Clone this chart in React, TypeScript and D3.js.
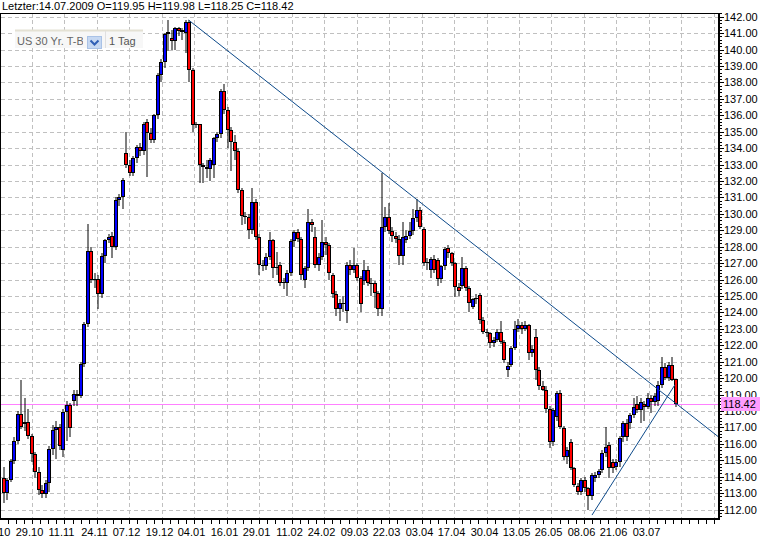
import React from "react";
import * as d3 from "d3";

// [open, high, low, close] per daily bar, 17.10.2008 .. 14.07.2009
const ohlc: [number, number, number, number][] = [
  [113.9,114.6,112.4,113.0],[113.0,113.9,112.6,113.8],[113.8,115.1,113.7,114.95],[114.95,116.4,114.8,116.15],
  [116.15,118.0,116.0,117.85],[117.85,119.9,116.9,117.0],[117.2,118.8,116.8,117.35],[117.35,118.1,116.3,116.5],
  [116.5,116.6,114.9,115.4],[115.4,115.5,113.9,114.3],[114.3,114.6,112.9,113.2],[113.2,113.5,112.7,112.95],
  [112.95,113.8,112.7,113.6],[113.6,115.9,113.1,115.7],[115.7,117.15,115.3,116.85],[116.85,117.4,115.1,117.05],
  [117.05,117.2,115.6,115.9],[115.6,118.1,115.2,117.95],[117.95,118.6,116.2,118.35],[118.35,118.5,116.4,116.95],
  [118.6,119.3,118.3,119.05],[119.05,119.3,118.3,118.9],[118.9,121.0,118.8,120.86],[120.86,123.4,120.7,123.27],
  [123.27,129.4,123.1,127.74],[127.74,128.0,125.8,125.97],[125.97,126.4,125.5,126.05],[126.05,126.3,124.24,125.1],
  [125.1,127.6,124.9,127.45],[127.45,128.5,127.0,128.4],[128.4,128.8,128.2,128.6],[128.67,128.9,127.3,128.0],
  [128.0,131.0,127.8,130.84],[130.84,131.2,130.5,131.05],[131.05,132.2,130.3,132.06],[133.72,135.0,132.8,132.97],
  [132.97,133.3,132.3,132.5],[132.5,133.5,132.3,133.38],[133.38,134.2,133.1,134.09],[134.09,134.3,133.5,133.8],
  [133.8,135.6,133.6,135.5],[135.57,135.8,132.26,134.9],[134.9,135.2,134.3,134.5],[134.5,136.1,134.3,136.02],
  [136.02,138.6,135.8,138.45],[138.45,139.4,138.0,139.26],[139.26,141.0,138.9,140.95],[140.95,141.8,139.9,141.05],
  [140.7,141.2,140.0,140.5],[140.5,141.4,139.97,141.3],[141.3,141.4,140.8,141.15],[141.2,141.3,140.6,141.05],
  [141.0,141.8,139.8,141.7],[141.65,141.8,138.0,138.75],[138.75,138.9,135.0,135.4],[135.4,135.6,135.2,135.45],
  [135.45,135.5,131.9,133.0],[133.0,133.1,131.9,132.85],[132.85,133.3,132.2,132.75],[132.75,133.4,132.0,133.25],
  [133.0,134.7,132.2,134.6],[134.6,135.0,134.4,134.84],[134.84,137.6,134.6,137.48],[137.48,137.9,136.1,136.32],
  [136.32,136.5,134.0,135.1],[135.1,135.3,132.6,134.4],[134.4,134.8,133.3,133.8],[133.8,134.0,131.3,131.45],
  [131.45,131.6,129.3,129.9],[129.9,130.1,129.4,129.8],[129.8,130.0,128.5,129.0],[129.0,131.55,128.8,130.7],
  [130.7,130.9,128.4,128.6],[128.6,128.8,126.3,126.9],[126.9,127.2,126.5,126.85],[126.85,127.6,126.6,127.4],
  [127.4,128.9,127.2,128.4],[128.4,128.5,126.1,126.7],[126.7,127.7,126.3,126.75],[126.9,127.1,125.6,125.8],
  [125.8,126.1,125.4,125.85],[125.8,126.6,125.0,126.4],[126.4,128.5,126.2,128.35],[128.35,129.0,128.0,128.9],
  [128.9,129.1,128.3,128.45],[128.45,128.6,126.0,126.3],[126.0,126.8,125.5,126.7],[126.7,130.3,126.5,129.5],
  [129.5,129.7,128.9,129.3],[128.6,129.2,126.7,126.9],[126.9,127.6,126.5,127.4],[127.4,129.6,127.2,128.3],
  [128.3,128.6,127.5,128.1],[128.1,128.2,126.0,126.4],[126.3,126.4,124.9,125.1],[125.1,125.3,123.8,124.2],
  [124.2,124.8,123.5,124.6],[124.5,125.0,124.0,124.6],[124.06,127.1,123.34,126.89],[126.89,127.2,126.3,126.6],
  [126.6,127.9,126.4,126.89],[126.89,127.0,125.9,126.08],[126.08,126.2,124.0,124.52],[125.9,127.2,125.7,126.6],
  [126.6,126.8,125.6,125.8],[125.8,126.1,125.0,125.78],[125.78,125.9,124.3,125.17],[125.17,125.3,123.8,124.2],
  [124.2,132.46,123.8,129.22],[129.22,130.4,128.9,129.79],[129.79,130.64,128.8,128.98],[128.98,129.2,128.3,128.66],
  [128.66,128.9,128.2,128.5],[128.5,128.7,126.9,127.44],[127.44,129.5,126.9,128.6],[128.4,129.0,128.2,128.66],
  [128.66,129.5,128.5,128.98],[128.98,130.3,128.7,129.73],[129.73,130.9,129.5,130.24],[130.24,130.4,129.1,129.22],
  [129.1,129.2,126.8,126.99],[126.99,127.3,126.6,127.05],[126.6,127.4,126.1,127.24],[127.24,127.5,126.4,126.6],
  [127.2,127.3,125.6,126.02],[126.02,126.9,125.8,126.83],[126.83,128.0,126.6,127.84],[127.9,128.1,127.3,127.64],
  [127.64,127.7,126.8,127.0],[127.0,127.1,124.95,125.57],[125.57,125.8,125.0,125.3],[125.6,127.4,125.4,126.69],
  [126.69,126.8,125.3,125.47],[125.47,125.6,124.0,124.56],[124.36,124.9,124.2,124.8],[124.9,125.1,124.5,124.8],
  [125.07,125.2,123.3,123.55],[123.55,123.7,122.7,122.84],[122.84,123.0,122.5,122.74],[122.74,122.8,121.82,122.13],
  [122.13,122.5,121.9,122.33],[122.33,123.0,122.2,122.84],[122.84,123.5,122.1,122.23],[122.23,122.3,120.9,121.11],
  [120.5,121.0,120.1,120.75],[120.8,121.95,120.7,121.82],[121.82,123.5,121.7,122.97],[122.97,123.6,122.8,123.23],
  [123.23,123.4,122.7,122.97],[122.97,123.5,122.9,123.23],[123.23,123.3,121.1,121.51],[121.51,122.0,121.3,121.75],
  [122.48,123.0,119.9,120.5],[120.5,120.7,119.3,119.52],[119.52,119.8,119.2,119.28],[119.28,119.5,117.9,118.1],
  [118.1,118.3,115.73,116.14],[116.14,118.2,115.9,118.06],[117.62,119.2,117.4,119.07],[119.07,119.3,116.9,117.05],
  [116.95,117.1,115.0,115.22],[115.22,115.8,114.8,115.63],[116.14,116.3,114.41,114.51],[114.51,114.6,113.4,113.5],
  [113.44,113.6,112.9,113.09],[113.09,113.9,112.9,113.8],[113.8,114.0,113.1,113.29],[113.29,113.4,111.98,112.83],
  [112.83,114.2,112.6,114.11],[113.91,114.3,113.7,114.11],[114.11,114.5,113.9,114.37],[114.41,115.6,114.2,115.43],
  [115.43,117.0,115.2,115.83],[115.93,116.1,113.9,114.51],[114.88,115.1,114.2,114.51],[114.6,115.1,114.4,114.88],
  [114.92,116.5,114.6,116.34],[116.4,117.4,116.1,117.25],[117.25,117.5,116.2,116.4],[117.25,117.9,116.9,117.76],
  [117.76,118.8,117.6,118.26],[118.43,118.9,117.9,118.06],[118.06,118.8,117.3,118.57],[118.4,118.6,117.4,118.26],
  [118.26,119.1,118.1,118.82],[118.82,119.0,117.9,118.57],[118.57,119.1,118.3,118.9],[118.6,119.8,118.3,119.6],
  [119.6,121.3,119.4,120.7],[120.7,120.9,119.9,120.0],[120.0,121.0,119.8,120.8],[120.8,121.3,119.8,119.9],
  [119.95,119.98,118.25,118.42],
];

const dateLabels = ["16.10","29.10","11.11","24.11","07.12","19.12","04.01","16.01","29.01","11.02","24.02",
  "09.03","22.03","03.04","17.04","30.04","13.05","26.05","08.06","21.06","03.07"];
const priceTicks = d3.range(112, 143, 1);
const lastClose = 118.42;
const headerText = "Letzter:14.07.2009 O=119.95 H=119.98 L=118.25 C=118.42";
const symbolName = "US 30 Yr. T-Bond";
const periodName = "1 Tag";
// trend lines: [bar index, price]
const trendDown: [number, number][] = [[53, 141.8], [204.3, 116.45]];
const trendUp: [number, number][] = [[168.3, 111.67], [192, 119.6]];
const barsPerGrid = 9.277;
const gridOffset = -1.0;

const L = 1, R = 718, T = 13, B = 519;

export default function App() {
  const x = d3.scaleLinear().domain([-0.57, 204.3]).range([L, R]);
  const y = d3.scaleLinear().domain([111.43, 142.225]).range([B, T]);
  const font = "'Liberation Sans', Arial, sans-serif";

  const gridKs = d3.range(0, 23);
  const gridX = (k: number) => Math.round(x(gridOffset + k * barsPerGrid)) + 0.5;
  const minorX = d3.range(0, 89).map((m) => Math.round(x(gridOffset + (m / 4) * barsPerGrid)) + 0.5);
  const minorY = d3.range(111.6, 142.21, 0.2);

  const line = d3.line<[number, number]>().x((d) => x(d[0])).y((d) => y(d[1]));

  return (
    <div style={{ position: "fixed", left: 0, top: 0, width: 760, height: 540, background: "#fff" }}>
      <svg width={760} height={540} style={{ display: "block" }} fontFamily={font}>
        <defs>
          <clipPath id="plot"><rect x={L} y={T} width={R - L} height={B - T} /></clipPath>
          <clipPath id="sym"><rect x={15} y={28} width={68} height={22} /></clipPath>
        </defs>
        <rect x={0} y={0} width={760} height={540} fill="#fff" />
        <text x={2} y={10} fontSize={11} fill="#000">{headerText}</text>

        {/* grid */}
        <g stroke="#c0c0c0" strokeWidth={1} strokeDasharray="4,3" clipPath="url(#plot)">
          {priceTicks.map((p) => (
            <line key={"h" + p} x1={L} x2={R} y1={Math.round(y(p)) + 0.5} y2={Math.round(y(p)) + 0.5} />
          ))}
          {gridKs.map((k) => (
            <line key={"v" + k} x1={gridX(k)} x2={gridX(k)} y1={T} y2={B} />
          ))}
        </g>

        {/* last price line */}
        <line x1={L} x2={R} y1={Math.round(y(lastClose)) + 0.5} y2={Math.round(y(lastClose)) + 0.5} stroke="#ff80ff" strokeWidth={1} />

        {/* candles */}
        <g clipPath="url(#plot)">
          {ohlc.map(([o, h, l, c], i) => {
            const cx = Math.round(x(i));
            const top = Math.round(y(Math.max(o, c)));
            const bot = Math.round(y(Math.min(o, c)));
            const hgt = Math.max(1, bot - top);
            const col = c >= o ? "#0000ff" : "#ff0000";
            return (
              <g key={i}>
                <line x1={cx + 1} x2={cx + 1} y1={Math.round(y(h))} y2={Math.round(y(l))} stroke="#000" strokeWidth={1} />
                <rect x={cx - 1} y={top} width={4} height={hgt} fill="#000" />
                {hgt > 2 && <rect x={cx} y={top + 1} width={2} height={hgt - 2} fill={col} />}
              </g>
            );
          })}
        </g>

        {/* trend lines */}
        <g clipPath="url(#plot)" fill="none" stroke="#0d4a8a" strokeWidth={1}>
          <path d={line(trendDown) || ""} />
          <path d={line(trendUp) || ""} />
        </g>

        {/* symbol widget */}
        <rect x={15} y={30} width={128} height={18} fill="#f7f7f7" />
        <line x1={15} x2={143} y1={30.5} y2={30.5} stroke="#e4e1d4" strokeWidth={2} />
        <text x={17} y={45} fontSize={11} fill="#666" clipPath="url(#sym)">{symbolName}</text>
        <rect x={87.5} y={36.5} width={14} height={12} fill="#c6d8f2" stroke="#a9c2e6" />
        <path d="M90.5,40.5 L94.5,44.5 L98.5,40.5" fill="none" stroke="#2f5fb5" strokeWidth={2} />
        <line x1={105.5} x2={105.5} y1={31} y2={48} stroke="#e0e0e0" />
        <text x={109} y={45} fontSize={11} fill="#555">{periodName}</text>

        {/* frame */}
        <line x1={0} x2={R} y1={T + 0.5} y2={T + 0.5} stroke="#000" />
        <line x1={0.5} x2={0.5} y1={T} y2={B} stroke="#000" />
        <line x1={R + 1} x2={R + 1} y1={T} y2={B + 1} stroke="#000" strokeWidth={2} />
        <line x1={0} x2={R + 2} y1={B} y2={B} stroke="#000" strokeWidth={2} />

        {/* right axis */}
        <g stroke="#000">
          {minorY.map((p, i) => (
            <line key={"my" + i} x1={720} x2={722} y1={Math.round(y(p)) + 0.5} y2={Math.round(y(p)) + 0.5} />
          ))}
          {priceTicks.map((p) => (
            <line key={"ty" + p} x1={720} x2={724} y1={Math.round(y(p)) + 0.5} y2={Math.round(y(p)) + 0.5} />
          ))}
        </g>
        {priceTicks.map((p) => (
          <text key={"ly" + p} x={724} y={y(p) + 4} fontSize={11} fill="#000">{p.toFixed(2)}</text>
        ))}
        <rect x={721} y={Math.round(y(lastClose)) - 7} width={39} height={14} fill="#ff9cff" />
        <text x={723} y={y(lastClose) + 4} fontSize={11} fill="#000">{lastClose.toFixed(2)}</text>

        {/* bottom axis */}
        <g stroke="#000">
          {minorX.filter((v) => v >= 0 && v <= R).map((v, i) => (
            <line key={"mx" + i} x1={v} x2={v} y1={520} y2={524} />
          ))}
        </g>
        {dateLabels.map((d, k) => (
          <text key={"lx" + k} x={gridX(k) - 3} y={536} fontSize={11} textAnchor="middle" fill="#000">{d}</text>
        ))}
      </svg>
    </div>
  );
}
